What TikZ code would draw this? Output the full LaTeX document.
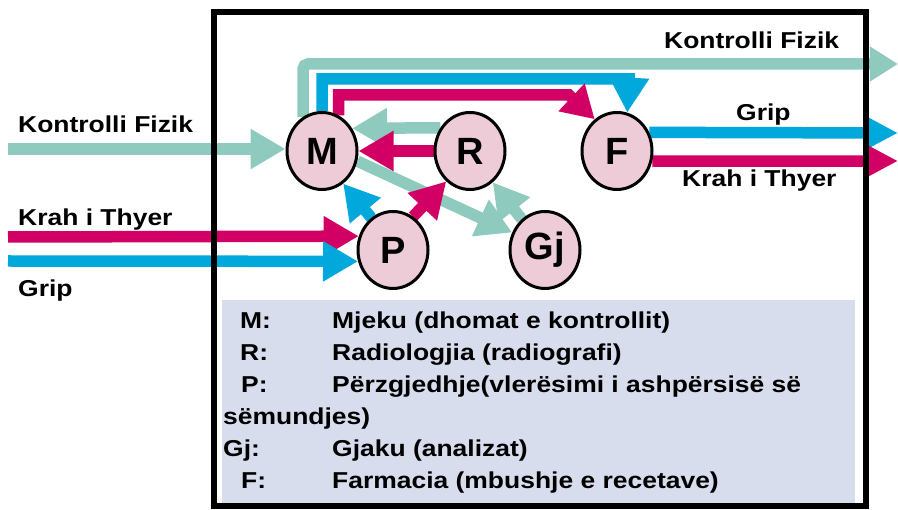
\documentclass[tikz,border=0pt]{standalone}
\usepackage{fontspec}
\setmainfont{Liberation Sans}[FakeStretch=1.15]
\newfontfamily\stationfont{Liberation Sans}
\usetikzlibrary{arrows.meta,shapes.geometric,backgrounds}

\definecolor{flowteal}{RGB}{142,203,190}
\definecolor{flowpink}{RGB}{210,0,100}
\definecolor{flowblue}{RGB}{0,168,219}
\definecolor{stationfill}{RGB}{237,204,216}
\definecolor{legendfill}{RGB}{216,221,237}

\begin{document}
\begin{tikzpicture}[x=1pt,y=-1pt,
		% Define styles for nodes
		station/.style={draw, ellipse, line width=3pt, fill=stationfill, minimum width=70pt, minimum height=77pt, inner sep=0pt, font=\stationfont\fontsize{38}{38}\selectfont\bfseries},
		lbl/.style={anchor=base west, inner sep=0pt, font=\fontsize{23}{27}\selectfont\bfseries},
		flow/.style={line width=11.5pt, -{Triangle[length=35pt,width=38pt]}}
	]
	\useasboundingbox (0,0) rectangle (898,510);

	% Stations
	\node[station] (M) at (322,151) {M};
	\node[station] (R) at (470,151) {R};
	\node[station] (F) at (617,151) {F};
	\node[station] (P) at (393,250) {P};
	\node[station] (Gj) at (545,250) {Gj};

	% Ends of the flows
	\coordinate (kin) at (8,149);
	\coordinate (krahin) at (8,237);
	\coordinate (gripin) at (8,261);
	\coordinate (kout) at (898,64);
	\coordinate (gripout) at (898,133);
	\coordinate (krahout) at (898,161);
	\coordinate (bluebend) at (629,79);
	\coordinate (pinkbend) at (569,95);

	\begin{scope}[on background layer]
		\fill[legendfill] (222,300) rectangle (855,503);

		% Flows coming in
		\draw[flow, flowteal] (kin) -- (kin -| M.west);
		\draw[flow, flowpink] (krahin) -- (P.158);
		\draw[flow, flowblue] (gripin) -- (P.198);

		% Flows between the stations
		\draw[flow, flowteal] (R.142.5) -- (M.37.5);
		\draw[flow, flowpink] (R.west) -- (M.east);
		\draw[flow, flowteal] (M.-16) -- (Gj.152);
		\draw[flow, flowteal] (Gj.127) -- (R.-54);
		\draw[flow, flowblue] (P.124) -- (M.-57);
		\draw[flow, flowpink] (P.59) -- (R.232);
		\draw[flow, flowblue] (M.90) |- (bluebend) -- (F.75);
		\draw[flow, flowpink, -{Triangle[length=32pt,width=36pt]}] (M.65) |- (pinkbend) -- (F.125);

		% Flows going out
		\draw[flow, flowteal, rounded corners=5pt, -{Triangle[length=28pt,width=33pt]}] (M.119) |- (kout);
		\draw[flow, flowblue, -{Triangle[length=33pt,width=32pt]}] (F.30) -- (gripout);
		\draw[flow, flowpink, -{Triangle[length=33pt,width=32pt]}] (F.-16.5) -- (krahout);
	\end{scope}

	% Flow labels
	\node[lbl] (kinlbl) at (18,133) {Kontrolli Fizik};
	\node[lbl] (krahinlbl) at (18,226) {Krah i Thyer};
	\node[lbl] (gripinlbl) at (18,297) {Grip};
	\node[lbl] (koutlbl) at (664,49) {Kontrolli Fizik};
	\node[lbl] (gripoutlbl) at (736,121) {Grip};
	\node[lbl] (krahoutlbl) at (682,187) {Krah i Thyer};

	% Legend
	\node[lbl] (keyM) at (240,329) {M:};
	\node[lbl] (descM) at (332,329) {Mjeku (dhomat e kontrollit)};
	\node[lbl] (keyR) at (240,361) {R:};
	\node[lbl] (descR) at (332,361) {Radiologjia (radiografi)};
	\node[lbl] (keyP) at (241,393) {P:};
	\node[lbl] (descP) at (332,393) {Përzgjedhje(vlerësimi i ashpërsisë së};
	\node[lbl] (descPb) at (223,425) {sëmundjes)};
	\node[lbl] (keyGj) at (223,457) {Gj:};
	\node[lbl] (descGj) at (332,457) {Gjaku (analizat)};
	\node[lbl] (keyF) at (241,489) {F:};
	\node[lbl] (descF) at (332,489) {Farmacia (mbushje e recetave)};

	% Frame
	\draw[line width=6pt] (214,12) rectangle (866,506);
\end{tikzpicture}
\end{document}
